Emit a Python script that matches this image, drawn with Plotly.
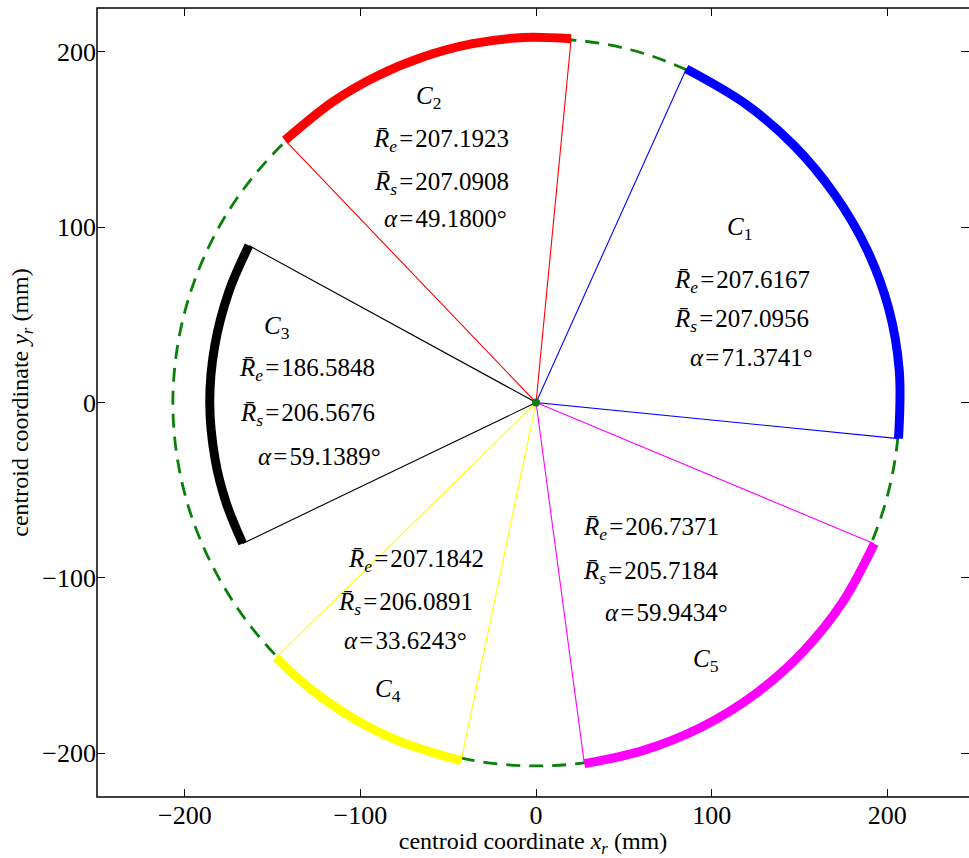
import numpy as np
import plotly.graph_objects as go

# ---------------- data ----------------
# fitted reference circle (green dashed): polar samples, angle in degrees, radius in mm
circle_ang = [0, 15, 30, 45, 60, 75, 90, 105, 120, 135, 150, 165, 180, 195, 210,
              225, 240, 255, 270, 285, 300, 315, 330, 345, 360]
circle_rad = [207.0, 207.2, 207.5, 207.8, 208.0, 208.3, 207.5, 207.0, 206.5, 206.2,
              206.4, 206.6, 206.8, 206.7, 206.5, 206.8, 207.0, 207.2, 207.3, 207.4,
              207.5, 207.3, 207.1, 207.0, 207.0]

# measured arcs C1..C5: polar samples (angle deg, radius mm)
c1_ang = [-5.7, 5, 15, 25, 35, 45, 55, 65.8]
c1_rad = [207.4, 207.6, 207.8, 207.6, 207.3, 207.5, 207.9, 208.6]
c2_ang = [84.5, 92, 100, 108, 116, 124, 133.7]
c2_rad = [208.4, 208.3, 207.8, 207.3, 207.0, 206.9, 206.9]
c3_ang = [151.3, 160, 170, 180, 190, 198, 205.7]
c3_rad = [186.4, 186.0, 185.8, 185.8, 185.6, 185.5, 185.4]
c4_ang = [224.5, 232, 240, 248, 258.2]
c4_rad = [207.6, 207.8, 208.0, 208.3, 208.7]
c5_ang = [277.6, 287, 297, 307, 317, 327, 337.3]
c5_rad = [207.8, 207.6, 207.7, 207.9, 208.1, 208.4, 208.7]

arc_names = ["C1", "C2", "C3", "C4", "C5"]
arc_colors = ["#0000ff", "#ff0000", "#000000", "#ffff00", "#ff00ff"]
Re_vals = ["207.6167", "207.1923", "186.5848", "207.1842", "206.7371"]
Rs_vals = ["207.0956", "207.0908", "206.5676", "206.0891", "205.7184"]
alpha_vals = ["71.3741", "49.1800", "59.1389", "33.6243", "59.9434"]

x_ticks = [-200, -100, 0, 100, 200]
y_ticks = [-200, -100, 0, 100, 200]

# ---------------- figure ----------------
FONT = "Liberation Serif, Times New Roman, serif"


def polar(ang, rad):
    a = np.deg2rad(np.asarray(ang, float))
    r = np.asarray(rad, float)
    return r * np.cos(a), r * np.sin(a)


fig = go.Figure()

cx, cy = polar(circle_ang, circle_rad)
fig.add_trace(go.Scatter(x=cx, y=cy, mode="lines",
                         line=dict(color="#0a800a", width=2.8, dash="14px,9px", shape="spline"),
                         hoverinfo="skip"))

arcs = [(c1_ang, c1_rad), (c2_ang, c2_rad), (c3_ang, c3_rad), (c4_ang, c4_rad), (c5_ang, c5_rad)]
for (ang, rad), col in zip(arcs, arc_colors):
    ax_, ay_ = polar(ang, rad)
    fig.add_trace(go.Scatter(x=[ax_[0], 0, ax_[-1]], y=[ay_[0], 0, ay_[-1]], mode="lines",
                             line=dict(color=col, width=1.1), hoverinfo="skip"))
for (ang, rad), col in zip(arcs, arc_colors):
    ax_, ay_ = polar(ang, rad)
    fig.add_trace(go.Scatter(x=ax_, y=ay_, mode="lines", line=dict(color=col, width=9, shape="spline"),
                             hoverinfo="skip"))

fig.add_trace(go.Scatter(x=[0], y=[0], mode="markers", marker=dict(color="#0a800a", size=8), hoverinfo="skip"))

# annotation text blocks
RBAR = "R\u0304"
EQ = "\u200a=\u200a"
label_pos = [(116, 99), (-61.5, 174), (-147.6, 43), (-84.3, -164.3), (96.9, -147.2)]
re_pos = [(117, 69), (-54.1, 149.5), (-130.5, 18.8), (-68.4, -90.2), (65.5, -71.9)]
rs_pos = [(116.8, 46.8), (-54.1, 125), (-129.9, -6.8), (-74.1, -114.7), (65.5, -97)]
al_pos = [(122.5, 25.7), (-51.3, 105), (-123.1, -30.8), (-74.1, -135.8), (74.1, -119.8)]

ann = []
for i in range(5):
    texts = [
        (label_pos[i], f"<i>C</i><sub>{arc_names[i][1]}</sub>"),
        (re_pos[i], f"<i>{RBAR}</i><sub><i>e</i></sub>{EQ}{Re_vals[i]}"),
        (rs_pos[i], f"<i>{RBAR}</i><sub><i>s</i></sub>{EQ}{Rs_vals[i]}"),
        (al_pos[i], f"<i>\u03b1</i>{EQ}{alpha_vals[i]}\u00b0"),
    ]
    for (x, y), t in texts:
        ann.append(dict(x=x, y=y, xref="x", yref="y", text=t, showarrow=False,
                        font=dict(family=FONT, size=25, color="black"),
                        xanchor="center", yanchor="middle"))

axis_common = dict(showgrid=False, zeroline=False, showline=False, ticks="inside", ticklen=8,
                   tickwidth=1.3, tickcolor="black", mirror="ticks",
                   tickfont=dict(family=FONT, size=26, color="black"))

fig.update_layout(
    width=969, height=858,
    margin=dict(l=97, r=0, t=8, b=61),
    plot_bgcolor="white", paper_bgcolor="white",
    showlegend=False,
    annotations=ann,
    xaxis=dict(range=[-250, 246.5], tickvals=x_ticks, **axis_common,
               title=dict(text="centroid coordinate <i>x</i><sub><i>r</i></sub> (mm)",
                          font=dict(family=FONT, size=24, color="black"), standoff=2)),
    yaxis=dict(range=[-225, 225], tickvals=y_ticks, **axis_common,
               title=dict(text="centroid coordinate <i>y</i><sub><i>r</i></sub> (mm)",
                          font=dict(family=FONT, size=24, color="black"), standoff=6)),
    shapes=[dict(type="rect", xref="paper", yref="paper", x0=0, x1=1.02, y0=0, y1=1,
                 line=dict(color="black", width=1.5), layer="above")],
)

fig.write_html("out.html")
